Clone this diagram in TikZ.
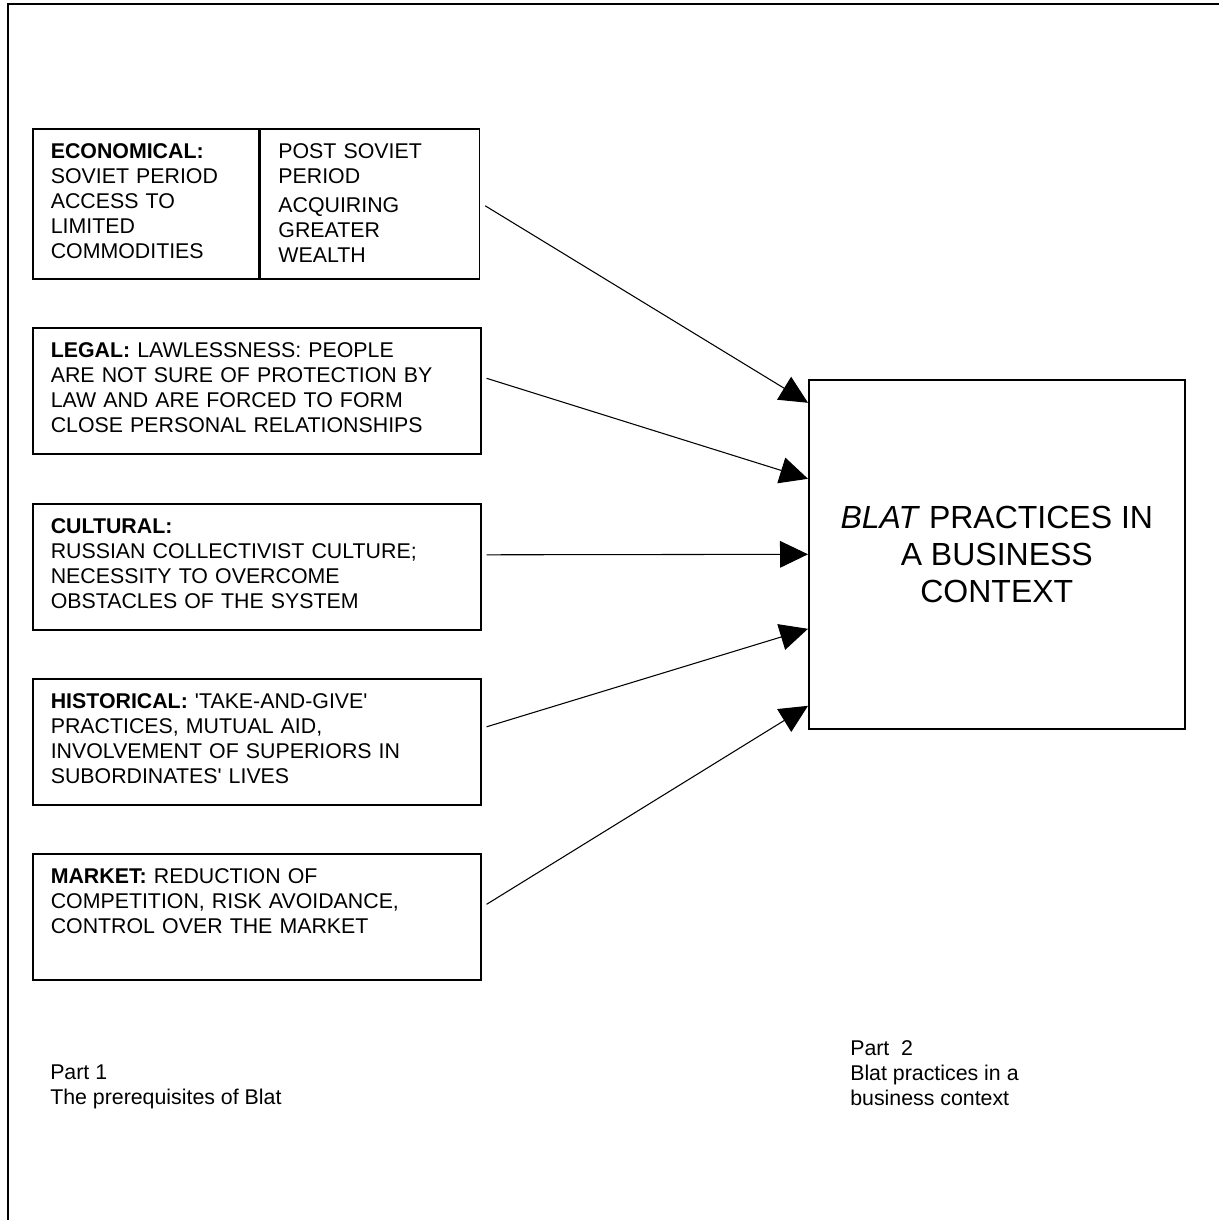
\documentclass[tikz,border=0pt]{standalone}
\usepackage{fontspec}
\setmainfont{Liberation Sans}
\usetikzlibrary{arrows.meta}

\tikzset{
  factor/.style={draw, line width=1.2pt, anchor=north west, align=left,
    inner xsep=13.5pt, inner ysep=0pt, text height=22pt,
    font=\fontsize{16}{18.75}\selectfont},
  link/.style={-{Triangle[length=21pt,width=20pt]}, line width=0.8pt},
  note/.style={anchor=north west, inner sep=0pt, align=left,
    font=\fontsize{16}{18.75}\selectfont}
}

\begin{document}
\begin{tikzpicture}
  [x=0.75pt, y=-0.75pt]
  \useasboundingbox (0,0) rectangle (1219,1220);
  % page frame
  \draw[line width=1.5pt] (8,1220) -- (8,4) -- (1219,4);

  % part 1: the prerequisites
  \node[factor, text width=142.5pt, text depth=90.5pt] (econ) at (32,128)
    {\textbf{ECONOMICAL:}\\SOVIET PERIOD\\ACCESS TO\\LIMITED\\COMMODITIES};
  \node[factor, text width=137.25pt, text depth=90.5pt] (prices) at (econ.north east)
    {POST SOVIET\\PERIOD\\[3pt]ACQUIRING\\GREATER\\WEALTH};
  \node[factor, text width=309pt, text depth=72.5pt] (legal) at (32,327)
    {\textbf{LEGAL:} LAWLESSNESS: PEOPLE\\ARE NOT SURE OF PROTECTION BY\\
     LAW AND ARE FORCED TO FORM\\CLOSE PERSONAL RELATIONSHIPS};
  \node[factor, text width=309pt, text depth=72.5pt] (cultural) at (32,503)
    {\textbf{CULTURAL:}\\RUSSIAN COLLECTIVIST CULTURE;\\
     NECESSITY TO OVERCOME\\OBSTACLES OF THE SYSTEM};
  \node[factor, text width=309pt, text depth=72.5pt] (historical) at (32,678)
    {\textbf{HISTORICAL:} \textquotesingle TAKE-AND-GIVE\textquotesingle\\PRACTICES, MUTUAL AID,\\
     INVOLVEMENT OF SUPERIORS IN\\SUBORDINATES\textquotesingle\ LIVES};
  \node[factor, text width=309pt, text depth=72.5pt] (market) at (32,853)
    {\textbf{MARKET:} REDUCTION OF\\COMPETITION, RISK AVOIDANCE,\\
     CONTROL OVER THE MARKET};

  % part 2: the outcome
  \node[draw, line width=1.2pt, anchor=north west, minimum width=282pt,
    minimum height=261.75pt, align=center,
    font=\fontsize{24}{27.75}\selectfont] (blat) at (808,379)
    {\textit{BLAT} PRACTICES IN\\A BUSINESS\\CONTEXT};

  \foreach \from/\sy/\ey in {prices/2/-151.5, legal/-12.5/-75.5,
      cultural/-12/0, historical/-15/74.5, market/-12.5/151.5}{
    \draw[link] ([shift={(5,\sy)}]\from.east) -- ([shift={(0,\ey)}]blat.west);}

  \node[note] (part1) at (50,1065) {Part 1\\The prerequisites of Blat};
  \node[note] (part2) at (850,1040) {Part\ \ 2\\Blat practices in a\\business context};
\end{tikzpicture}
\end{document}
